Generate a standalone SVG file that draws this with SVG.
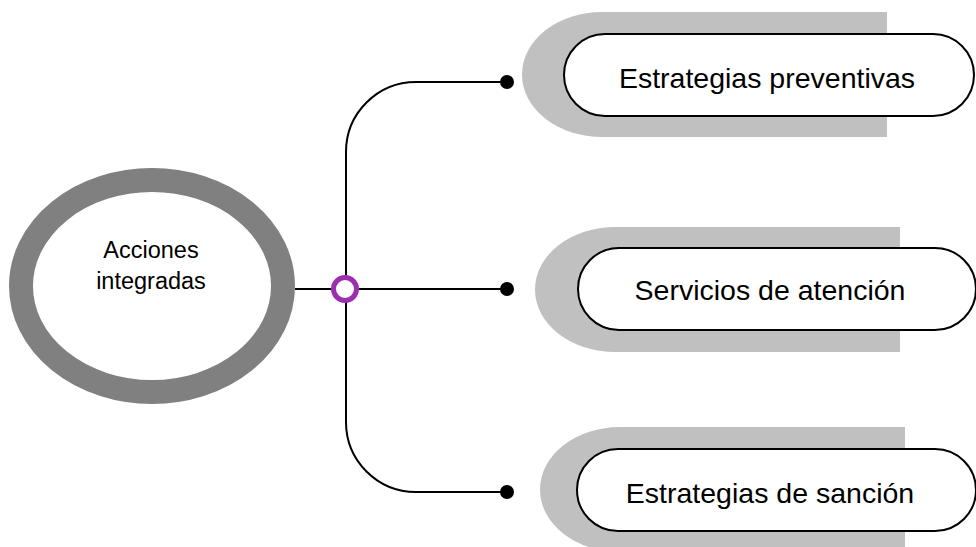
<svg xmlns="http://www.w3.org/2000/svg" width="976" height="547" viewBox="0 0 976 547">
<style>
.shadow{fill:#c0c0c0;stroke:none}
.pill{fill:#ffffff;stroke:#000000;stroke-width:2}
.lbl{font-family:"Liberation Sans",Arial,sans-serif;font-size:28.5px;fill:#000000;text-anchor:middle}
.clbl{font-family:"Liberation Sans",Arial,sans-serif;font-size:23.5px;fill:#000000;text-anchor:middle}
.conn{fill:none;stroke:#000000;stroke-width:2}
.dot{fill:#000000}
</style>
<rect width="976" height="547" fill="#ffffff"/>
<g id="connectors">
  <path class="conn" d="M295,289 H507"/>
  <path class="conn" d="M346,289 V152 A70,70 0 0 1 416,82 H507"/>
  <path class="conn" d="M346,289 V422 A70,70 0 0 0 416,492 H507"/>
  <circle class="dot" cx="507" cy="82" r="7"/>
  <circle class="dot" cx="507" cy="289" r="7"/>
  <circle class="dot" cx="507" cy="492" r="7"/>
  <circle cx="345" cy="289" r="11.5" fill="#ffffff" stroke="#9b2fae" stroke-width="5"/>
</g>
<g id="center">
  <ellipse cx="152" cy="286" rx="131" ry="106" fill="#ffffff" stroke="#808080" stroke-width="24"/>
  <text class="clbl" x="151" y="258">Acciones</text>
  <text class="clbl" x="151" y="289">integradas</text>
</g>
<g id="node1">
  <path class="shadow" d="M887,12 H602 A80,62.5 0 0 0 602,137 H887 Z"/>
  <rect class="pill" x="564" y="34" width="410" height="82" rx="41" ry="41"/>
  <text class="lbl" x="767" y="88">Estrategias preventivas</text>
</g>
<g id="node2">
  <path class="shadow" d="M900,227 H615 A80,62.5 0 0 0 615,352 H900 Z"/>
  <rect class="pill" x="578" y="248" width="398" height="82" rx="41" ry="41"/>
  <text class="lbl" x="770" y="300">Servicios de atención</text>
</g>
<g id="node3">
  <path class="shadow" d="M905,427 H620 A80,62.5 0 0 0 620,552 H905 Z"/>
  <rect class="pill" x="577" y="449" width="399" height="82" rx="41" ry="41"/>
  <text class="lbl" x="770" y="503">Estrategias de sanción</text>
</g>
</svg>
